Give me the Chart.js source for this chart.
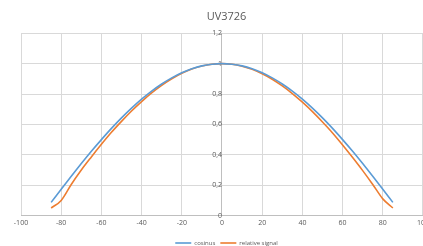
<!DOCTYPE html>
<html lang="en">
<head>
    <meta charset="UTF-8">
    <title>UV3726</title>
    <script src="https://cdn.jsdelivr.net/npm/chart.js"></script>
    <style>
        html, body { margin: 0; padding: 0; background: #fff; overflow: hidden; }
        .chart { position: absolute; left: 0; top: 0; width: 432px; height: 246px; }
    </style>
</head>
<body>
    <div class="chart">
        <canvas id="uvChart" width="432" height="246"></canvas>
    </div>
    <script>
        const angles = [-85, -80, -75, -70, -65, -60, -55, -50, -45, -40, -35, -30, -25, -20, -15, -10, -5, 0,
                        5, 10, 15, 20, 25, 30, 35, 40, 45, 50, 55, 60, 65, 70, 75, 80, 85];
        const cosinus = [0.087, 0.174, 0.259, 0.342, 0.423, 0.500, 0.574, 0.643, 0.707, 0.766, 0.819, 0.866,
                         0.906, 0.940, 0.966, 0.985, 0.996, 1.000, 0.996, 0.985, 0.966, 0.940, 0.906, 0.866,
                         0.819, 0.766, 0.707, 0.643, 0.574, 0.500, 0.423, 0.342, 0.259, 0.174, 0.087];
        const relativeSignal = [0.050, 0.100, 0.205, 0.300, 0.386, 0.469, 0.548, 0.620, 0.688, 0.750, 0.807, 0.857,
                                0.900, 0.936, 0.964, 0.984, 0.996, 1.000, 0.996, 0.983, 0.962, 0.933, 0.897, 0.853,
                                0.803, 0.746, 0.684, 0.616, 0.544, 0.465, 0.382, 0.296, 0.205, 0.110, 0.050];
        const xTicks = [-100, -80, -60, -40, -20, 0, 20, 40, 60, 80, 100];
        const yTicks = [0, 0.2, 0.4, 0.6, 0.8, 1, 1.2];

        const gridColor = '#d9d9d9';
        const textColor = '#595959';

        const toPoints = values => angles.map((a, i) => ({ x: a, y: values[i] }));

        const ctx = document.getElementById('uvChart').getContext('2d');
        new Chart(ctx, {
            type: 'scatter',
            data: {
                datasets: [{
                    label: 'cosinus',
                    data: toPoints(cosinus),
                    showLine: true,
                    borderColor: '#5b9bd5',
                    backgroundColor: '#5b9bd5',
                    borderWidth: 1.6,
                    pointRadius: 0,
                    cubicInterpolationMode: 'monotone'
                }, {
                    label: 'relative signal',
                    data: toPoints(relativeSignal),
                    showLine: true,
                    borderColor: '#ed7d31',
                    backgroundColor: '#ed7d31',
                    borderWidth: 1.6,
                    pointRadius: 0,
                    cubicInterpolationMode: 'monotone'
                }]
            },
            options: {
                responsive: false,
                animation: false,
                layout: { padding: { left: 21, right: 0, top: 0, bottom: -10 } },
                plugins: {
                    title: {
                        display: true,
                        text: 'UV3726',
                        color: textColor,
                        font: { family: 'Open Sans', size: 11, weight: 'normal' },
                        padding: { top: 10, bottom: 10 }
                    },
                    legend: {
                        position: 'bottom',
                        labels: {
                            color: textColor,
                            font: { family: 'Open Sans', size: 6 },
                            usePointStyle: true,
                            pointStyle: 'line',
                            pointStyleWidth: 16,
                            boxHeight: 6,
                            padding: 5
                        }
                    },
                    tooltip: { enabled: false }
                },
                scales: {
                    x: {
                        type: 'linear',
                        min: -100,
                        max: 100,
                        afterBuildTicks: axis => { axis.ticks = xTicks.map(v => ({ value: v })); },
                        afterFit: axis => { axis.height += 5; },
                        ticks: {
                            color: textColor,
                            font: { family: 'Open Sans', size: 7 },
                            padding: 3,
                            maxRotation: 0
                        },
                        grid: { color: gridColor, drawTicks: false },
                        border: { color: '#bfbfbf' }
                    },
                    y: {
                        type: 'linear',
                        position: { x: 0 },
                        min: 0,
                        max: 1.2,
                        afterBuildTicks: axis => { axis.ticks = yTicks.map(v => ({ value: v })); },
                        ticks: {
                            color: textColor,
                            font: { family: 'Open Sans', size: 7 },
                            padding: 2,
                            callback: v => String(Math.round(v * 10) / 10).replace('.', ',')
                        },
                        grid: { color: gridColor, tickLength: 3 },
                        border: { color: '#bfbfbf' }
                    }
                }
            }
        });
    </script>
</body>
</html>
